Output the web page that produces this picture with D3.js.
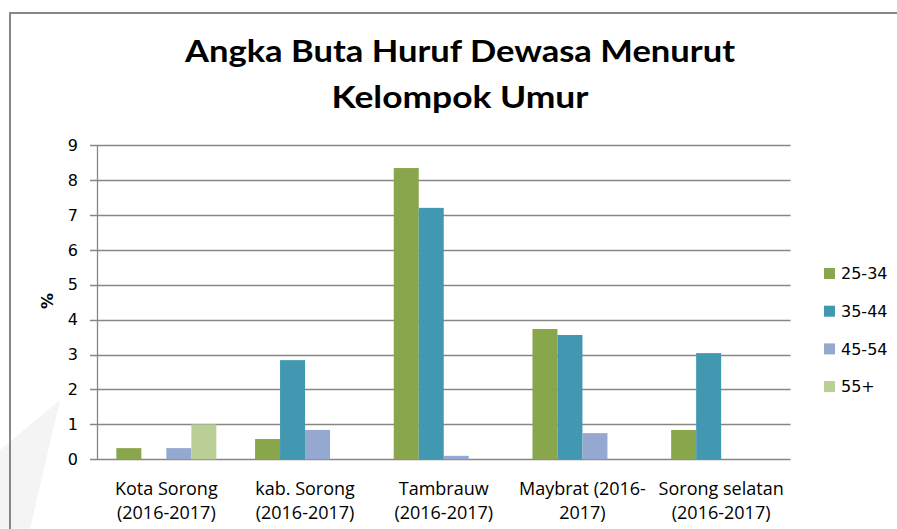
<!DOCTYPE html>
<html>
<head>
<meta charset="utf-8">
<script src="https://cdn.jsdelivr.net/npm/d3@7"></script>
<style>
  html, body { margin: 0; padding: 0; background: #fff; }
  svg { display: block; }
</style>
</head>
<body>
<svg id="chart" width="897" height="529"></svg>
<script>
const categories = ["Kota Sorong (2016-2017)", "kab. Sorong (2016-2017)", "Tambrauw (2016-2017)", "Maybrat (2016-2017)", "Sorong selatan (2016-2017)"];
const categoryLines = [
  ["Kota Sorong", "(2016-2017)"],
  ["kab. Sorong", "(2016-2017)"],
  ["Tambrauw", "(2016-2017)"],
  ["Maybrat (2016-", "2017)"],
  ["Sorong selatan", "(2016-2017)"]
];
const seriesNames = ["25-34", "35-44", "45-54", "55+"];
const s25_34 = [0.32, 0.58, 8.34, 3.73, 0.84];
const s35_44 = [0, 2.84, 7.20, 3.56, 3.04];
const s45_54 = [0.32, 0.84, 0.10, 0.75, 0];
const s55plus = [1.0, 0, 0, 0, 0];
const seriesValues = [s25_34, s35_44, s45_54, s55plus];
const colors = ["#8aa64c", "#4298b0", "#95a9d0", "#b9cf96"];
const yTicks = [0, 1, 2, 3, 4, 5, 6, 7, 8, 9];
const titleLines = ["Angka Buta Huruf Dewasa Menurut", "Kelompok Umur"];
const yLabel = "%";

const svg = d3.select("#chart");
const W = 897, H = 529;
const plot = { left: 97, right: 790.5, top: 145, bottom: 459.3 };

// faint background watermark shape
svg.append("path")
  .attr("d", "M0,529 L0,450 L60,400 L30,529 Z")
  .attr("fill", "#f4f4f4");

// chart border
svg.append("path")
  .attr("d", `M10,${H} L10,13 L${W},13`)
  .attr("fill", "none")
  .attr("stroke", "#878787")
  .attr("stroke-width", 2);

const x0 = d3.scaleBand().domain(d3.range(categories.length)).range([plot.left, plot.right]).padding(0);
const y = d3.scaleLinear().domain([0, 9]).range([plot.bottom, plot.top]);
const bandW = x0.bandwidth();
const bw = bandW * 25 / 138.7;
const gapSide = (bandW - 4 * bw) / 2;
const xs = d3.scaleBand().domain(d3.range(seriesNames.length)).range([gapSide, gapSide + 4 * bw]).padding(0);

// gridlines
svg.append("g").selectAll("line").data(yTicks).join("line")
  .attr("x1", plot.left - 7).attr("x2", plot.right)
  .attr("y1", d => Math.round(y(d)) + 0.5).attr("y2", d => Math.round(y(d)) + 0.5)
  .attr("stroke", "#868686").attr("stroke-width", 1.3);

// y axis line
svg.append("line")
  .attr("x1", plot.left + 0.5).attr("x2", plot.left + 0.5)
  .attr("y1", plot.top).attr("y2", plot.bottom)
  .attr("stroke", "#868686").attr("stroke-width", 1.3);

// bars
seriesValues.forEach((vals, si) => {
  svg.append("g").selectAll("rect").data(vals).join("rect")
    .attr("x", (d, i) => x0(i) + xs(si))
    .attr("width", xs.bandwidth())
    .attr("y", d => y(d))
    .attr("height", d => y(0) - y(d))
    .attr("fill", colors[si]);
});

// y tick labels
svg.append("g").selectAll("text").data(yTicks).join("text")
  .attr("x", 78).attr("y", d => y(d))
  .attr("dy", "0.36em")
  .attr("text-anchor", "end")
  .attr("font-family", "'DejaVu Sans', Verdana, sans-serif")
  .attr("font-size", 16)
  .attr("fill", "#000")
  .text(d => d);

// y axis label
svg.append("text")
  .attr("transform", "translate(53,301) rotate(-90)")
  .attr("text-anchor", "middle")
  .attr("font-family", "'DejaVu Sans', Verdana, sans-serif")
  .attr("font-weight", "bold")
  .attr("font-size", 16)
  .text(yLabel);

// category labels
const catG = svg.append("g");
categoryLines.forEach((lines, i) => {
  const cx = x0(i) + bandW / 2;
  lines.forEach((ln, li) => {
    catG.append("text")
      .attr("x", cx).attr("y", 495 + li * 24)
      .attr("text-anchor", "middle")
      .attr("font-family", "'Open Sans', sans-serif")
      .attr("font-size", 18)
      .attr("fill", "#000")
      .text(ln);
  });
});

// title
const titleLen = [550, 257];
titleLines.forEach((t, i) => {
  svg.append("text")
    .attr("x", 460).attr("y", 62 + i * 46)
    .attr("text-anchor", "middle")
    .attr("font-family", "Lato, 'Open Sans', sans-serif")
    .attr("font-weight", "bold")
    .attr("font-size", 31)
    .attr("textLength", titleLen[i])
    .attr("lengthAdjust", "spacingAndGlyphs")
    .attr("fill", "#000")
    .text(t);
});

// legend
const leg = svg.append("g");
seriesNames.forEach((n, i) => {
  const yy = 268 + i * 37.7;
  leg.append("rect").attr("x", 824).attr("y", yy).attr("width", 11).attr("height", 11).attr("fill", colors[i]);
  leg.append("text").attr("x", 841).attr("y", yy + 5.5).attr("dy", "0.36em")
    .attr("font-family", "'DejaVu Sans', Verdana, sans-serif")
    .attr("font-size", 16).attr("fill", "#000").text(n);
});
</script>
</body>
</html>
